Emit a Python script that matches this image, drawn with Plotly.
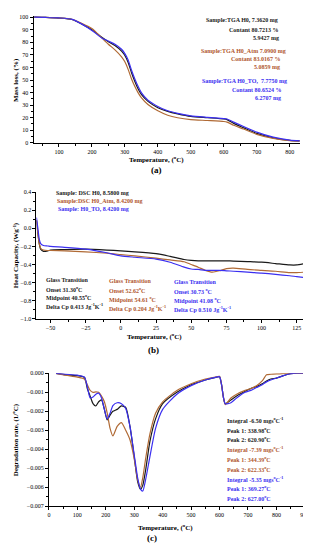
import plotly.graph_objects as go

W, H = 311, 550

# ---------------- data ----------------
series_names = ["H0", "H0_Atm", "H0_TO"]
colors = ["#1a1a1a", "#b06a35", "#3b2ff0"]
text_colors = ["#1a1a1a", "#b0562e", "#3b2ff0"]

# (a) TGA
T_tga = [25, 60, 100, 140, 170, 200, 230, 250, 270, 290, 300, 310, 320, 330, 340, 350,
         370, 400, 430, 460, 500, 550, 600, 610, 630, 660, 700, 750, 800, 830]
tga_h0 = [100, 99.8, 99.3, 98.2, 94.5, 90, 84, 80.5, 77.5, 73, 69.5, 64, 56, 49, 43, 38.5,
          33, 28, 25, 23, 21, 20, 19, 18.5, 15.5, 12, 7.5, 4, 2, 1.5]
tga_atm = [100, 99.8, 99.3, 98.3, 95, 91, 83.5, 78.5, 74, 68.5, 64.5, 58.5, 51, 45, 40, 36,
           30.5, 25.5, 22, 20, 18.5, 17.8, 17, 16.5, 14, 11, 6.8, 3.6, 1.8, 1.4]
tga_to = [100, 99.8, 99.4, 98.3, 94.5, 89.5, 83.5, 81, 78.5, 74.5, 71, 66, 58, 51, 45, 40,
          34, 29, 25.5, 23.5, 21.5, 20.3, 19.3, 19, 16.5, 13, 8.5, 4.5, 2.2, 1.5]

# (b) DSC
T_dsc = [-60, -59, -58, -57, -55, -52, -50, -40, -25, -10, 0, 10, 25, 35, 45, 50, 55, 60,
         65, 70, 75, 80, 90, 100, 110, 120, 125, 131]
dsc_h0 = [0.09, -0.05, -0.17, -0.23, -0.255, -0.25, -0.24, -0.235, -0.23, -0.24, -0.25, -0.26,
          -0.28, -0.31, -0.345, -0.355, -0.36, -0.36, -0.36, -0.36, -0.36, -0.362, -0.368,
          -0.375, -0.39, -0.405, -0.405, -0.39]
dsc_atm = [0.09, -0.06, -0.17, -0.22, -0.24, -0.245, -0.245, -0.25, -0.26, -0.275, -0.29,
           -0.305, -0.33, -0.35, -0.37, -0.40, -0.43, -0.465, -0.485, -0.47, -0.445, -0.44,
           -0.455, -0.465, -0.475, -0.49, -0.49, -0.485]
dsc_to = [0.12, 0.0, -0.12, -0.17, -0.19, -0.195, -0.2, -0.21, -0.23, -0.27, -0.305, -0.32,
          -0.34, -0.375, -0.43, -0.45, -0.455, -0.465, -0.465, -0.465, -0.47, -0.475, -0.485,
          -0.495, -0.51, -0.525, -0.535, -0.545]

# (c) DTG
T_dtg = [25, 60, 100, 125, 135, 145, 155, 165, 175, 185, 195, 205, 215, 225, 240, 255, 270,
         285, 300, 312, 322, 330, 340, 355, 375, 400, 450, 500, 550, 590, 600, 607, 614, 620,
         640, 660, 690, 710, 730, 750, 765, 780, 800, 820, 840, 860, 900]
dtg_h0 = [0, -0.00008, -0.00012, -0.00022, -0.0008, -0.0012, -0.0016, -0.00172, -0.0015,
          -0.0014, -0.0019, -0.00245, -0.0022, -0.0020, -0.0019, -0.00172, -0.0018, -0.0028,
          -0.0044, -0.0057, -0.0061, -0.0059, -0.0051, -0.0036, -0.0024, -0.0016, -0.0010,
          -0.0006, -0.00035, -0.0002, -0.00018, -0.0006, -0.0013, -0.0016, -0.0014, -0.0012,
          -0.00095, -0.0008, -0.0007, -0.00055, -0.0004, -0.0003, -0.00025, -0.00015,
          -0.00005, 0, 0]
dtg_atm = [0, -0.0001, -0.0002, -0.0003, -0.0006, -0.0009, -0.001, -0.00098, -0.001, -0.0012,
           -0.0015, -0.0021, -0.0029, -0.0033, -0.0028, -0.0026, -0.003, -0.0035, -0.0045,
           -0.0056, -0.006, -0.0055, -0.0045, -0.0032, -0.0021, -0.0015, -0.0009, -0.00055,
           -0.0003, -0.00018, -0.00016, -0.0006, -0.0013, -0.00165, -0.0013, -0.0011, -0.0009,
           -0.0008, -0.00065, -0.0004, -0.00008, -0.00005, -0.00003, -0.00002, 0, 0, 0]
dtg_to = [0, -0.00005, -0.0001, -0.0002, -0.0007, -0.0013, -0.00125, -0.0011, -0.00105,
          -0.0013, -0.0019, -0.0024, -0.0021, -0.0017, -0.00155, -0.0016, -0.00185, -0.0028,
          -0.0043, -0.0055, -0.0061, -0.0062, -0.0056, -0.0044, -0.0029, -0.0019, -0.0011,
          -0.00065, -0.00035, -0.0002, -0.00018, -0.0006, -0.0013, -0.0016, -0.00155, -0.0013,
          -0.0010, -0.0009, -0.00075, -0.0006, -0.00045, -0.00035, -0.00025, -0.00015,
          -0.00005, 0, 0]

tga_notes = [["Sample:TGA H0, 7.3620 mg", "Contant 80.7213 %", "5.9427 mg"],
             ["Sample:TGA H0_Atm 7.0900 mg", "Contant 83.0167 %", "5.0859 mg"],
             ["Sample:TGA H0_TO,  7.7750 mg", "Contant 80.6524 %", "6.2707 mg"]]
dsc_samples = ["Sample: DSC H0, 8.5800 mg", "Sample:DSC H0_Atm, 8.4200 mg",
               "Sample: H0_TO, 8.4200 mg"]
dsc_glass = [["Glass Transition", "Onset 31.30<sup>o</sup>C", "Midpoint 40.55<sup>o</sup>C",
              "Delta Cp 0.413 Jg<sup>-1</sup>K<sup>-1</sup>"],
             ["Glass Transition", "Onset 52.62<sup>o</sup>C", "Midpoint 54.61 <sup>o</sup>C",
              "Delta Cp 0.204 Jg<sup>-1</sup>K<sup>-1</sup>"],
             ["Glass Transition", "Onset 30.73 <sup>o</sup>C", "Midpoint 41.08 <sup>o</sup>C",
              "Delta Cp 0.510 Jg<sup>-1</sup>K<sup>-1</sup>"]]
dtg_notes = [["Integral -6.50 mgs<sup>o</sup>C<sup>-1</sup>", "Peak 1: 338.98<sup>o</sup>C",
              "Peak 2: 620.90<sup>o</sup>C"],
             ["Integral -7.39 mgs<sup>o</sup>C<sup>-1</sup>", "Peak 1: 344.39<sup>o</sup>C",
              "Peak 2: 622.33<sup>o</sup>C"],
             ["Integral -5.35 mgs<sup>o</sup>C<sup>-1</sup>", "Peak 1: 369.27<sup>o</sup>C",
              "Peak 2: 627.00<sup>o</sup>C"]]

# ---------------- helpers ----------------
def fx(px):
    return px / W

def fy(py):
    return 1 - py / H

FONT = "Liberation Serif"

fig = go.Figure()

panels = [
    (T_tga, [tga_h0, tga_atm, tga_to], "x", "y"),
    (T_dsc, [dsc_h0, dsc_atm, dsc_to], "x2", "y2"),
    (T_dtg, [dtg_h0, dtg_atm, dtg_to], "x3", "y3"),
]
for T, ys, xa, ya in panels:
    for i, yv in enumerate(ys):
        fig.add_trace(go.Scatter(x=T, y=yv, mode="lines", name=series_names[i],
                                 line=dict(color=colors[i], width=1.2, shape="spline",
                                           smoothing=0.6),
                                 xaxis=xa, yaxis=ya, showlegend=False, hoverinfo="skip"))

def axis(domain, rng, dtick, minor_dtick, anchor, fmt=None, tick0=None):
    d = dict(domain=domain, range=rng, dtick=dtick, anchor=anchor,
             showgrid=False, zeroline=False, showline=True, linecolor="black",
             linewidth=1, ticks="outside", ticklen=3, tickwidth=1, tickcolor="black",
             tickfont=dict(family=FONT, size=6, color="black"),
             minor=dict(ticks="outside", ticklen=2, dtick=minor_dtick, tickcolor="black"),
             mirror=False, fixedrange=True)
    if fmt:
        d["tickformat"] = fmt
    if tick0 is not None:
        d["tick0"] = tick0
    return d

layout = dict(
    width=W, height=H, margin=dict(l=0, r=0, t=0, b=0),
    paper_bgcolor="white", plot_bgcolor="white",
    font=dict(family=FONT, color="black"),
    xaxis=axis([fx(25), fx(297)], [23, 832], 100, 50, "y", tick0=0),
    yaxis=axis([fy(133.3), fy(5)], [0, 101], 10, 5, "x", tick0=0),
    xaxis2=axis([fx(28), fx(302)], [-60, 131], 25, 12.5, "y2", tick0=0),
    yaxis2=axis([fy(311), fy(183.3)], [-1.0, 0.4], 0.2, 0.1, "x2", fmt=".1f", tick0=0),
    xaxis3=axis([fx(40.7), fx(301.7)], [0, 900], 100, 50, "y3", tick0=0),
    yaxis3=axis([fy(500.7), fy(366.3)], [-0.007, 0.0], 0.001, 0.0005, "x3", fmt=".3f",
                tick0=0),
)
fig.update_layout(**layout)

ann = []

def note(x, y, text, color="black", size=6, xanchor="left", angle=0, bold=True):
    t = f"<b>{text}</b>" if bold else text
    ann.append(dict(x=fx(x), y=fy(y), xref="paper", yref="paper", text=t,
                    showarrow=False, xanchor=xanchor, yanchor="middle", textangle=angle,
                    font=dict(family=FONT, size=size, color=color)))

# (a) notes
right_edges = [[276, 277, 277], [284, 279, 278], [286, 280, 279]]
ys_a = [[9, 19, 27], [40.7, 49, 57], [70.7, 80, 88]]
for i in range(3):
    for j in range(3):
        note(right_edges[i][j], ys_a[i][j], tga_notes[i][j], text_colors[i], xanchor="right")

# (b) notes
for i, yy in enumerate([184.5, 192.5, 200.5]):
    note(46 + i, yy, dsc_samples[i], text_colors[i])
gx = [36, 100, 166]
gy0 = [271.7, 273.3, 274.3]
for i in range(3):
    for j in range(4):
        note(gx[i], gy0[i] + j * 8.9, dsc_glass[i][j], text_colors[i])

# (c) notes
for i in range(3):
    for j in range(3):
        k = i * 3 + j
        note(220, 413.3 + k * 9.9, dtg_notes[i][j], text_colors[i])

# axis titles
note(150, 150, "Temperature, (<sup>o</sup>C)", size=7, xanchor="center")
note(148, 329, "Temperature, (<sup>o</sup>C)", size=7, xanchor="center")
note(160, 522.7, "Temperature, (<sup>o</sup>C)", size=7, xanchor="center")
note(7, 70, "Mass loss, (%)", size=7, xanchor="center", angle=-90)
note(7, 247, "Heat Capacity, (Wg<sup>-1</sup>)", size=7, xanchor="center", angle=-90)
note(6, 433, "Degradation rate, (1/<sup>o</sup>C)", size=7, xanchor="center", angle=-90)

# panel labels
note(150, 161, "(a)", size=9, xanchor="center")
note(147, 343, "(b)", size=9, xanchor="center")
note(146, 533, "(c)", size=9, xanchor="center")

fig.update_layout(annotations=ann)
fig.write_html("out.html")
